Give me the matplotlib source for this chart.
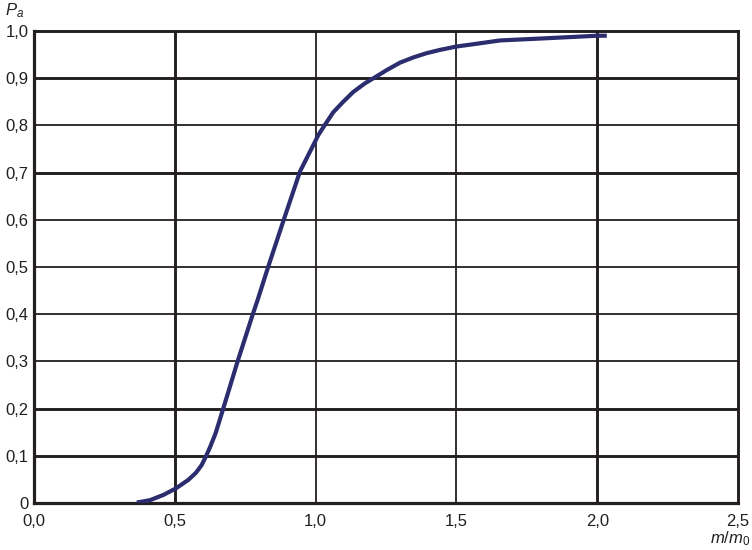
import matplotlib
matplotlib.use("Agg")
import matplotlib.pyplot as plt

plt.rcParams['font.family'] = ['Liberation Sans', 'DejaVu Sans']
plt.rcParams['mathtext.fontset'] = 'custom'
plt.rcParams['mathtext.rm'] = 'Liberation Sans'
plt.rcParams['mathtext.it'] = 'Liberation Sans:italic'

# Curve
m_ratio = [0.365, 0.412, 0.459, 0.504, 0.548, 0.575, 0.595, 0.610, 0.625, 0.645, 0.672, 0.723,
           0.777, 0.794, 0.832, 0.888, 0.945, 0.995, 1.010, 1.035, 1.063, 1.098,
           1.134, 1.175, 1.211, 1.252, 1.300, 1.347, 1.394, 1.442, 1.499, 1.560,
           1.655, 1.797, 1.900, 2.000, 2.034]
p_a = [0.001, 0.006, 0.017, 0.031, 0.049, 0.064, 0.080, 0.098, 0.118, 0.148, 0.200, 0.300,
       0.400, 0.430, 0.501, 0.602, 0.703, 0.762, 0.780, 0.803, 0.828, 0.850,
       0.871, 0.889, 0.902, 0.917, 0.933, 0.944, 0.953, 0.960, 0.967, 0.972,
       0.980, 0.984, 0.987, 0.990, 0.990]

x_ticks = [0.0, 0.5, 1.0, 1.5, 2.0, 2.5]
x_labels = ["0,0", "0,5", "1,0", "1,5", "2,0", "2,5"]
y_ticks = [0.0, 0.1, 0.2, 0.3, 0.4, 0.5, 0.6, 0.7, 0.8, 0.9, 1.0]
y_labels = ["0", "0,1", "0,2", "0,3", "0,4", "0,5", "0,6", "0,7", "0,8", "0,9", "1,0"]
thick_x = [0.5, 2.0]
thick_y = [0.1, 0.2, 0.7, 0.9]

grid_color = "#231f20"
curve_color = "#2b2d6e"

fig = plt.figure(figsize=(7.52, 5.5), dpi=100)
ax = fig.add_axes([34/752, 47/550, 704/752, 472/550])
ax.set_xlim(0, 2.5)
ax.set_ylim(0, 1.0)

for xv in x_ticks[1:-1]:
    ax.axvline(xv, color=grid_color, lw=2.1 if xv in thick_x else 1.3, zorder=1)
for yv in y_ticks[1:-1]:
    ax.axhline(yv, color=grid_color, lw=2.1 if yv in thick_y else 1.3, zorder=1)

for side in ['left', 'bottom']:
    ax.spines[side].set_linewidth(2.3)
for side in ['top', 'right']:
    ax.spines[side].set_linewidth(2.1)
for s in ax.spines.values():
    s.set_color(grid_color)

ax.plot(m_ratio, p_a, color=curve_color, lw=3.0, solid_capstyle='butt',
        solid_joinstyle='round', zorder=3)

ax.set_xticks(x_ticks)
ax.set_xticklabels(x_labels)
ax.set_yticks(y_ticks)
ax.set_yticklabels(y_labels)
ax.tick_params(length=0, labelsize=12, colors=grid_color, pad=4)
ax.tick_params(axis='x', pad=8)

fig.text(5/752, 1 - 15/550, r"$\mathit{P}_{\mathit{a}}$", fontsize=12, ha='left', va='baseline', color=grid_color)
fig.text(750/752, 1 - 543/550, r"$\mathit{m/m}_{\mathrm{0}}$", fontsize=12, ha='right', va='baseline', color=grid_color)

fig.savefig("out.png", dpi=100)
